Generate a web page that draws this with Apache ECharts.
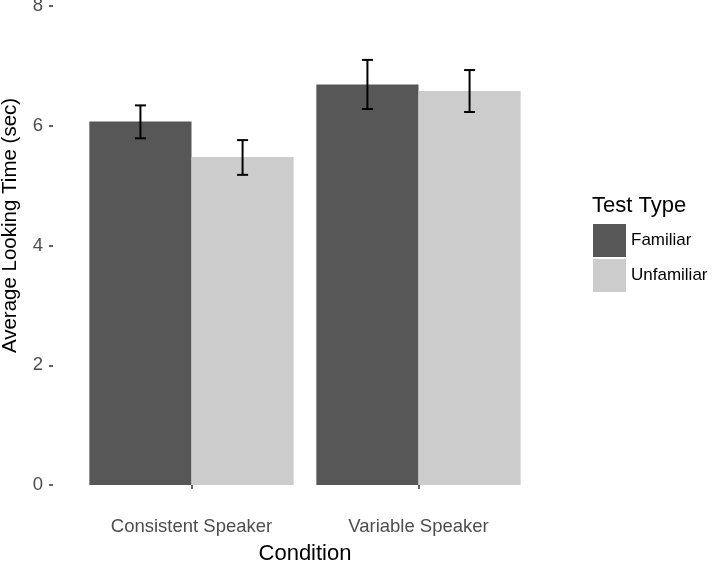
<!DOCTYPE html>
<html>
<head>
<meta charset="utf-8">
<script src="https://cdn.jsdelivr.net/npm/echarts@6/dist/echarts.min.js"></script>
<style>
  html, body { margin: 0; padding: 0; background: #fff; }
</style>
</head>
<body>
<div id="chartDom" style="width: 716px; height: 561px;"></div>
<script>
const categories = ['Consistent Speaker', 'Variable Speaker'];
const familiar = [6.07, 6.69];
const unfamiliar = [5.48, 6.58];
const familiarLow = [5.79, 6.28];
const familiarHigh = [6.34, 7.10];
const unfamiliarLow = [5.18, 6.23];
const unfamiliarHigh = [5.76, 6.93];

const chart = echarts.init(document.getElementById('chartDom'));
const font = 'Liberation Sans, Arial, Helvetica, sans-serif';

// error bar drawn at the centre of one dodged bar
function errorBar(shift) {
  return function (params, api) {
    const band = api.size([1, 0])[0];
    const x = api.coord([api.value(0), 0])[0] + shift * band * 0.225;
    const lo = api.coord([api.value(0), api.value(1)])[1];
    const hi = api.coord([api.value(0), api.value(2)])[1];
    const cap = 5.5;
    const style = { stroke: '#000', lineWidth: 2 };
    return {
      type: 'group',
      children: [
        { type: 'line', shape: { x1: x, y1: lo, x2: x, y2: hi }, style: style },
        { type: 'line', shape: { x1: x - cap, y1: lo, x2: x + cap, y2: lo }, style: style },
        { type: 'line', shape: { x1: x - cap, y1: hi, x2: x + cap, y2: hi }, style: style }
      ]
    };
  };
}

const option = {
  animation: false,
  backgroundColor: '#fff',
  textStyle: { fontFamily: font },
  title: {
    text: 'Test Type',
    left: 592,
    top: 195,
    padding: 0,
    textStyle: { fontFamily: font, fontSize: 22, fontWeight: 'normal', color: '#000' }
  },
  legend: {
    orient: 'vertical',
    left: 593,
    top: 224,
    padding: 0,
    itemWidth: 33,
    itemHeight: 33,
    itemGap: 2,
    itemTextGap: 5,
    icon: 'rect',
    data: ['Familiar', 'Unfamiliar'],
    textStyle: { fontFamily: font, fontSize: 17, color: '#000' }
  },
  grid: { left: 78, right: 184, top: 6, bottom: 76, containLabel: false, outerBoundsMode: 'none' },
  xAxis: {
    type: 'category',
    data: categories,
    offset: 25,
    name: 'Condition',
    nameLocation: 'middle',
    nameGap: 33,
    nameTextStyle: { fontSize: 22, color: '#000', fontFamily: font },
    axisLine: { show: false },
    axisTick: { show: true, alignWithLabel: true, length: 4, lineStyle: { color: '#333', width: 1.5 } },
    axisLabel: { fontSize: 18.5, color: '#4d4d4d', margin: 7, fontFamily: font },
    splitLine: { show: false }
  },
  yAxis: {
    type: 'value',
    min: 0,
    max: 8,
    interval: 2,
    offset: 25,
    name: 'Average Looking Time (sec)',
    nameLocation: 'middle',
    nameGap: 32,
    nameTextStyle: { fontSize: 20.5, color: '#000', fontFamily: font, padding: [0, 0, 0, 40] },
    axisLine: { show: false },
    axisTick: { show: true, length: 4, lineStyle: { color: '#333', width: 1.5 } },
    axisLabel: { fontSize: 18.5, color: '#4d4d4d', margin: 10, fontFamily: font },
    splitLine: { show: false }
  },
  series: [
    {
      name: 'Familiar',
      type: 'bar',
      data: familiar,
      barGap: '0%',
      barCategoryGap: '10%',
      itemStyle: { color: '#575757' }
    },
    {
      name: 'Unfamiliar',
      type: 'bar',
      data: unfamiliar,
      itemStyle: { color: '#cccccc' }
    },
    {
      type: 'custom',
      renderItem: errorBar(-1),
      encode: { x: 0, y: [1, 2] },
      data: categories.map((c, i) => [i, familiarLow[i], familiarHigh[i]]),
      z: 10
    },
    {
      type: 'custom',
      renderItem: errorBar(1),
      encode: { x: 0, y: [1, 2] },
      data: categories.map((c, i) => [i, unfamiliarLow[i], unfamiliarHigh[i]]),
      z: 10
    }
  ]
};

chart.setOption(option);
</script>
</body>
</html>
